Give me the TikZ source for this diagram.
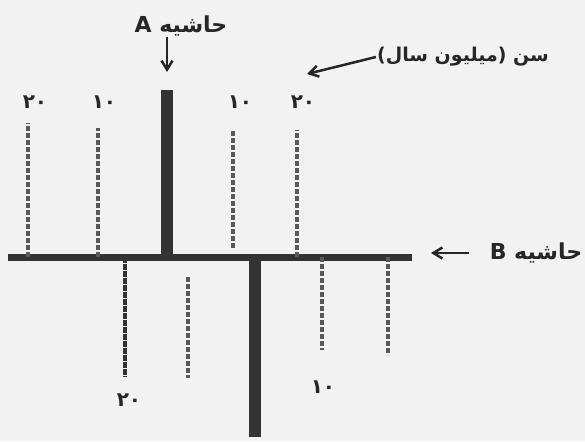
\documentclass[tikz,border=0pt]{standalone}
\usepackage{fontspec}
\newfontfamily\arabicfont[Script=Arabic]{DejaVu Sans}
\TeXXeTstate=1
\usetikzlibrary{arrows.meta}
\tikzset{
  mglabel/.style={font=\arabicfont\bfseries\fontsize{22}{24}\selectfont, inner sep=1pt, text=black!85},
  mgagelabel/.style={mglabel, font=\arabicfont\bfseries\fontsize{19}{22}\selectfont},
  mgnum/.style={font=\arabicfont\bfseries\fontsize{20}{22}\selectfont, inner sep=1pt, text=black!85},
  mgaxis/.style={line width=7pt, draw=black!80},
  mgridge/.style={line width=12pt, draw=black!80},
  mgage/.style={line width=3.5pt, draw=black!65, dash pattern=on 5pt off 2pt},
  mgagedark/.style={mgage, draw=black!80, dash pattern=on 6pt off 1pt},
  mgarrow/.style={-{Straight Barb[length=9pt,width=11pt]}, line width=2.5pt, draw=black!85}
}

\begin{document}
\begin{tikzpicture}[x=1pt,y=-1pt]
  \fill[black!5] (0,0) rectangle (585,441);
  \useasboundingbox (0,0) rectangle (585,441);
  % axis line
  \coordinate (axw) at (8,257);
  \coordinate (axe) at (412,257);
  \draw[mgaxis] (axw) -- (axe);
  % ridge A (up) and ridge B (down)
  \coordinate (rAtop) at (167,90);
  \coordinate (rAbot) at (167,257);
  \coordinate (rBtop) at (255,257);
  \coordinate (rBbot) at (255,437);
  \draw[mgridge] (rAbot) -- (rAtop);
  \draw[mgridge] (rBtop) -- (rBbot);
  % age bars above
  \foreach \x/\ya/\yb in {28/123/257, 98/128/257, 233/130/248, 297/130/257}
    \draw[mgage] (\x,\yb) -- (\x,\ya);
  % age bars below
  \draw[mgagedark] (125,257) -- (125,377);
  \foreach \x/\ya/\yb in {188/277/378, 322/257/350, 388/257/355}
    \draw[mgage] (\x,\ya) -- (\x,\yb);
  % ages
  \node[mgnum] (tl20) at (35,102) {۲۰};
  \node[mgnum] (tl10) at (104,102) {۱۰};
  \node[mgnum] (tr10) at (240,102) {۱۰};
  \node[mgnum] (tr20) at (303,102) {۲۰};
  \node[mgnum] (bl20) at (129,400) {۲۰};
  \node[mgnum] (br10) at (323,387) {۱۰};
  % labels
  \node[mglabel] (labA) at (181,26) {\beginR حاشیه A\endR};
  \node[mglabel] (labB) at (536,253) {\beginR حاشیه B\endR};
  \node[mgagelabel] (labage) at (463,57) {\beginR سن (میلیون سال)\endR};
  \coordinate (arA) at (167,72);
  \coordinate (arB) at (431,253);
  \coordinate (arage) at (307,74);
  \draw[mgarrow] (labA.south -| arA) -- (arA);
  \draw[mgarrow, shorten <=20pt] (labB.west) -- (arB);
  \draw[mgarrow] (labage.west) -- (arage);
\end{tikzpicture}
\end{document}
